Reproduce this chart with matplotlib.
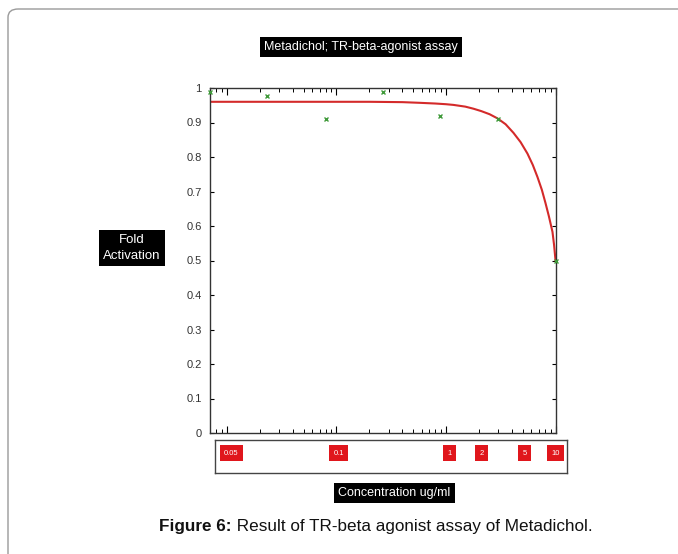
import numpy as np
import matplotlib
matplotlib.use("Agg")
import matplotlib.pyplot as plt
from matplotlib.patches import FancyBboxPatch

# ---- data ----
conc = [0.007, 0.0233, 0.080, 0.267, 0.887, 3.01, 10.0]
fold = [0.988, 0.977, 0.910, 0.988, 0.919, 0.910, 0.500]

fit_x = [0.007, 0.05, 0.2, 0.4, 0.58, 0.8, 1.0, 1.17, 1.5, 1.78, 2.1, 2.5,
         2.95, 3.5, 4.13, 4.8, 5.54, 6.2, 6.84, 7.5, 8.09, 8.7, 9.38, 9.7, 10.0]
fit_y = [0.960, 0.960, 0.960, 0.959, 0.957, 0.955, 0.953, 0.951, 0.946, 0.940,
         0.933, 0.924, 0.912, 0.895, 0.870, 0.843, 0.810, 0.777, 0.742, 0.705,
         0.667, 0.628, 0.583, 0.545, 0.500]

y_ticks = [0, 0.1, 0.2, 0.3, 0.4, 0.5, 0.6, 0.7, 0.8, 0.9, 1.0]
y_tick_labels = ["0", "0.1", "0.2", "0.3", "0.4", "0.5", "0.6", "0.7", "0.8", "0.9", "1"]
conc_labels = ["0.05", "0.1", "1", "2", "5", "10"]
conc_label_pos = [0.011, 0.105, 1.08, 2.1, 5.2, 10.0]

W, H = 678, 554
fig = plt.figure(figsize=(W / 100, H / 100), dpi=100)
plt.rcParams['font.family'] = ['Liberation Sans', 'DejaVu Sans']

def fx(p):
    return p / W

def fy(p):
    return 1 - p / H

# outer rounded border
border = FancyBboxPatch((fx(8), fy(580)), fx(700), (580 - 9) / H,
                        boxstyle="round,pad=0,rounding_size=0.015",
                        transform=fig.transFigure, fill=False,
                        edgecolor="#9a9a9a", linewidth=1.0)
fig.patches.append(border)

# main axes
L, R, T, B = 210, 556, 88, 433
ax = fig.add_axes([fx(L), fy(B), (R - L) / W, (B - T) / H])
ax.set_xscale("log")
xlim = (0.007, 10.1)
ax.set_xlim(*xlim)
ax.set_ylim(0, 1)
ax.plot(fit_x, fit_y, color="#d42a2a", linewidth=1.5, zorder=2,
        solid_joinstyle="round")
ax.plot(conc, fold, linestyle="none", marker="x", markersize=3.5,
        markeredgewidth=1.0, color="#3f9a3a", zorder=3, clip_on=False)
ax.set_yticks(y_ticks)
ax.set_yticklabels(y_tick_labels, fontsize=8, color="#333333")
ax.tick_params(axis="y", direction="in", length=3, right=True, width=0.8, pad=6)
ax.tick_params(axis="x", which="major", direction="in", length=5, top=True,
               labelbottom=False, width=0.8)
ax.tick_params(axis="x", which="minor", direction="in", length=3, top=True,
               labelbottom=False, width=0.7)
for s in ax.spines.values():
    s.set_color("#333333")
    s.set_linewidth(1.0)

# label strip axes (same log mapping as main axes)
lg0, lg1 = np.log10(xlim[0]), np.log10(xlim[1])
ppd = (R - L) / (lg1 - lg0)
L2, R2, T2, B2 = 215, 567, 440, 473
ax2 = fig.add_axes([fx(L2), fy(B2), (R2 - L2) / W, (B2 - T2) / H])
ax2.set_xscale("log")
ax2.set_xlim(10 ** (lg0 + (L2 - L) / ppd), 10 ** (lg1 + (R2 - R) / ppd))
ax2.set_ylim(0, 1)
ax2.set_xticks([])
ax2.set_yticks([])
ax2.minorticks_off()
for s in ax2.spines.values():
    s.set_color("#444444")
    s.set_linewidth(1.0)
for lab, pos in zip(conc_labels, conc_label_pos):
    ax2.text(pos, 0.6, lab, ha="center", va="center", fontsize=5.5,
             color="white",
             bbox=dict(boxstyle="square,pad=0.55", facecolor="#e0161c",
                       edgecolor="none"))

# title
fig.text(fx(361), fy(47), "Metadichol; TR-beta-agonist assay", ha="center",
         va="center", fontsize=9, color="white",
         bbox=dict(boxstyle="square,pad=0.35", facecolor="black", edgecolor="none"))
# y label
fig.text(fx(132), fy(248), "Fold\nActivation", ha="center", va="center",
         fontsize=9.5, color="white", linespacing=1.35,
         bbox=dict(boxstyle="square,pad=0.35", facecolor="black", edgecolor="none"))
# x label
fig.text(fx(394), fy(493), "Concentration ug/ml", ha="center", va="center",
         fontsize=9, color="white",
         bbox=dict(boxstyle="square,pad=0.35", facecolor="black", edgecolor="none"))

# caption
fig.canvas.draw()
r = fig.canvas.get_renderer()
t1 = fig.text(0, fy(527), "Figure 6:", fontsize=12.3, fontweight="bold",
              va="center", ha="left", color="#111111")
t2 = fig.text(0, fy(527), " Result of TR-beta agonist assay of Metadichol.",
              fontsize=12.3, va="center", ha="left", color="#111111")
w1 = t1.get_window_extent(r).width
w2 = t2.get_window_extent(r).width
x0 = 376 - (w1 + w2) / 2
t1.set_x(fx(x0))
t2.set_x(fx(x0 + w1))

fig.savefig("out.png", dpi=100)
